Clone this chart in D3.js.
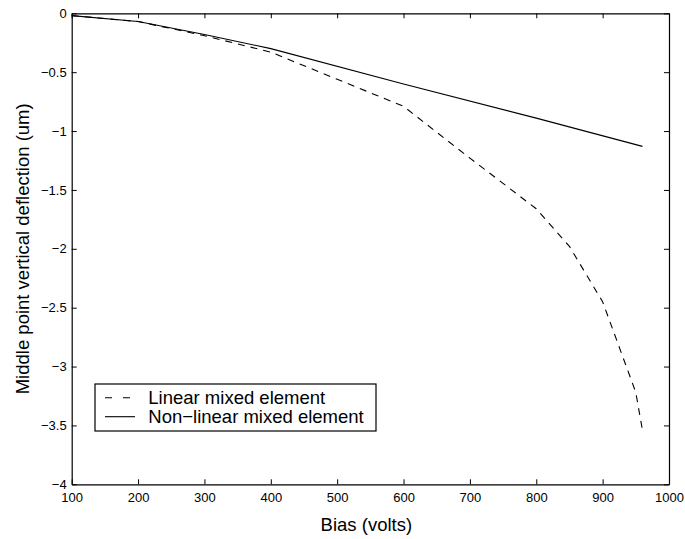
<!DOCTYPE html>
<html>
<head>
<meta charset="utf-8">
<script src="https://cdn.jsdelivr.net/npm/d3@7"></script>
<style>
  html, body { margin: 0; padding: 0; background: #fff; }
  svg { display: block; font-family: "Liberation Sans", Arial, Helvetica, sans-serif; }
</style>
</head>
<body>
<svg id="chart" width="685" height="539"></svg>
<script>
// ---- data ----
const biasLinear = [100, 200, 300, 400, 500, 600, 700, 800, 850, 900, 950, 960];
const deflLinear = [-0.02, -0.07, -0.19, -0.33, -0.56, -0.79, -1.23, -1.66, -1.98, -2.45, -3.22, -3.54];
const biasNonlinear = [100, 200, 300, 400, 600, 800, 960];
const deflNonlinear = [-0.02, -0.07, -0.18, -0.30, -0.60, -0.89, -1.13];
const xTicks = [100, 200, 300, 400, 500, 600, 700, 800, 900, 1000];
const xTickLabels = ["100", "200", "300", "400", "500", "600", "700", "800", "900", "1000"];
const yTicks = [0, -0.5, -1, -1.5, -2, -2.5, -3, -3.5, -4];
const yTickLabels = ["0", "\u22120.5", "\u22121", "\u22121.5", "\u22122", "\u22122.5", "\u22123", "\u22123.5", "\u22124"];
const seriesNames = ["Linear mixed element", "Non\u2212linear mixed element"];
const xLabel = "Bias (volts)";
const yLabel = "Middle point vertical deflection (um)";

// ---- layout ----
const L = 71.7, R = 669, T = 13.3, B = 484.3;
const svg = d3.select("#chart");
svg.append("rect").attr("width", 685).attr("height", 539).attr("fill", "#fff");

const x = d3.scaleLinear().domain([100, 1000]).range([L, R]);
const y = d3.scaleLinear().domain([-4, 0]).range([B, T]);

const line = d3.line().x(d => x(d[0])).y(d => y(d[1]));
const linData = biasLinear.map((b, i) => [b, deflLinear[i]]);
const nonData = biasNonlinear.map((b, i) => [b, deflNonlinear[i]]);

svg.append("path").datum(nonData).attr("d", line)
  .attr("fill", "none").attr("stroke", "#000").attr("stroke-width", 1.1);
svg.append("path").datum(linData).attr("d", line)
  .attr("fill", "none").attr("stroke", "#000").attr("stroke-width", 1.1)
  .attr("stroke-dasharray", "7,6");

// axes
const tickFont = 13;
const xAxis = d3.axisBottom(x).tickValues(xTicks)
  .tickFormat((d, i) => xTickLabels[i]).tickSizeInner(-5).tickSizeOuter(0).tickPadding(8);
const gx = svg.append("g").attr("transform", `translate(0,${B})`).call(xAxis);
const yAxis = d3.axisLeft(y).tickValues(yTicks)
  .tickFormat((d, i) => yTickLabels[i]).tickSizeInner(-5).tickSizeOuter(0).tickPadding(5);
const gy = svg.append("g").attr("transform", `translate(${L},0)`).call(yAxis);
const gxt = svg.append("g").attr("transform", `translate(0,${T})`)
  .call(d3.axisTop(x).tickValues(xTicks).tickFormat("").tickSizeInner(-5).tickSizeOuter(0));
const gyr = svg.append("g").attr("transform", `translate(${R},0)`)
  .call(d3.axisRight(y).tickValues(yTicks).tickFormat("").tickSizeInner(-5).tickSizeOuter(0));
[gx, gy, gxt, gyr].forEach(g => {
  g.selectAll(".domain").attr("stroke", "#000").attr("stroke-width", 1.2);
  g.selectAll(".tick line").attr("stroke", "#000").attr("stroke-width", 1);
  g.selectAll("text").attr("font-size", tickFont).attr("fill", "#000")
    .attr("font-family", "'Liberation Sans', Arial, sans-serif");
});

// axis labels
svg.append("text").attr("x", (L + R) / 2 - 4).attr("y", 531)
  .attr("text-anchor", "middle").attr("font-size", 18.5).attr("fill", "#000").text(xLabel);
svg.append("text").attr("transform", `translate(29,${(T + B) / 2}) rotate(-90)`)
  .attr("text-anchor", "middle").attr("font-size", 18.5).attr("fill", "#000").text(yLabel);

// legend
const lg = svg.append("g");
lg.append("rect").attr("x", 95).attr("y", 384).attr("width", 281).attr("height", 47)
  .attr("fill", "#fff").attr("stroke", "#000").attr("stroke-width", 1.2);
const legY = [397.7, 416.7];
const legDash = ["7,11", null];
seriesNames.forEach((name, i) => {
  lg.append("line").attr("x1", 105).attr("x2", 135).attr("y1", legY[i]).attr("y2", legY[i])
    .attr("stroke", "#000").attr("stroke-width", 1.1)
    .attr("stroke-dasharray", legDash[i]);
  lg.append("text").attr("x", 148.3).attr("y", legY[i] + 6.5)
    .attr("font-size", 18.5).attr("fill", "#000").text(name);
});
</script>
</body>
</html>
